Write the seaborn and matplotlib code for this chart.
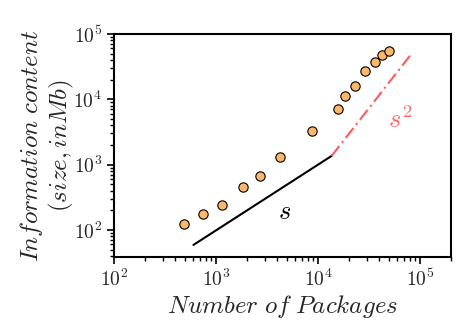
import matplotlib
matplotlib.use("Agg")
import matplotlib.pyplot as plt
import matplotlib.ticker as mticker
import seaborn as sns
import numpy as np
import pandas as pd

# Data
packages = [489, 746, 1137, 1855, 2680, 4265, 8670, 15600, 18530, 22900, 28700, 36500, 42700, 49300]
info_mb = [122, 177, 243, 453, 661, 1316, 3325, 7210, 11100, 15970, 27400, 36700, 48100, 55300]

s_line_x = [600, 13600]
s_line_y = [59, 1361]
s2_line_x = [13600, 81100]
s2_line_y = [1361, 48100]

tick_vals = [1e2, 1e3, 1e4, 1e5]
tick_labels = [r"$10^{2}$", r"$10^{3}$", r"$10^{4}$", r"$10^{5}$"]

sns.set_theme(style="ticks")
plt.rcParams['mathtext.fontset'] = 'cm'
plt.rcParams['font.family'] = ['DejaVu Sans']

fig = plt.figure(figsize=(4.7, 3.36), dpi=100)
ax = fig.add_axes([0.2426, 0.236, 0.959 - 0.2426, 0.899 - 0.236])

df = pd.DataFrame({"packages": packages, "info": info_mb})
sns.lineplot(x=s_line_x, y=s_line_y, ax=ax, color="black", linewidth=1.5)
sns.lineplot(x=s2_line_x, y=s2_line_y, ax=ax, color="#ff5a5a", linewidth=1.5,
             linestyle=(0, (6, 2, 1, 2)))
sns.scatterplot(data=df, x="packages", y="info", ax=ax, s=45, color="#fbb76a",
                edgecolor="black", linewidth=0.8, zorder=3)

ax.set_xscale("log")
ax.set_yscale("log")
ax.set_xlim(100, 2e5)
ax.set_ylim(39, 1e5)

ax.text(4740, 190, r"$s$", fontsize=19, color="black", ha="center", va="center")
ax.text(63700, 4700, r"$s^2$", fontsize=19, color="#ff6b6b", ha="center", va="center")

ax.set_xlabel(r"$Number\ of\ Packages$", fontsize=18, labelpad=2)
ax.set_ylabel("$Information\\ content$\n$(size, inMb)$", fontsize=18, linespacing=1.12, labelpad=-2)

for sp in ax.spines.values():
    sp.set_linewidth(1.5)
    sp.set_color("black")
ax.tick_params(axis="both", which="major", labelsize=14, length=5, width=1.2, color="black", direction="out")
ax.tick_params(axis="both", which="minor", length=3, width=1.0, color="black", direction="out")
ax.xaxis.set_major_locator(mticker.FixedLocator(tick_vals))
ax.xaxis.set_major_formatter(mticker.FixedFormatter(tick_labels))
ax.yaxis.set_major_locator(mticker.FixedLocator(tick_vals))
ax.yaxis.set_major_formatter(mticker.FixedFormatter(tick_labels))
ax.grid(False)

fig.savefig("out.png", dpi=100)
